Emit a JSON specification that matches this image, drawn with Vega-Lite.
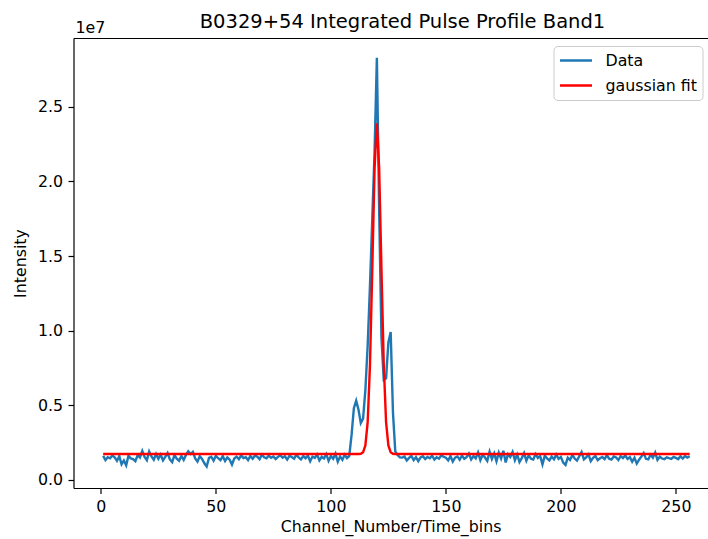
{
  "$schema": "https://vega.github.io/schema/vega-lite/v6.json",
  "autosize": {"type": "none"},
  "padding": {"left": 73.5, "top": 38, "right": 0, "bottom": 51},
  "width": 634,
  "height": 450,
  "background": "white",
  "title": {"text": "B0329+54 Integrated Pulse Profile Band1", "anchor": "middle", "frame": "group", "font": "DejaVu Sans", "fontSize": 19.5, "fontWeight": "normal", "color": "#000", "baseline": "alphabetic", "offset": 12, "dy": 39, "dx": 12},
  "config": {
    "view": {"stroke": null},
    "axis": {"grid": false, "domainColor": "#000", "domainWidth": 1.2, "tickColor": "#000", "tickWidth": 1.2, "tickSize": 5.5, "labelPadding": 5.5, "labelFont": "DejaVu Sans", "labelFontSize": 15.8, "labelColor": "#000", "titleFont": "DejaVu Sans", "titleFontSize": 15.8, "titleFontWeight": "normal", "titleColor": "#000"},
    "legend": {"symbolType": "stroke", "symbolSize": 1024, "symbolStrokeWidth": 2.4, "labelFont": "DejaVu Sans", "labelFontSize": 15.8, "labelColor": "#000", "padding": 5, "strokeColor": "#cccccc", "fillColor": "rgba(255,255,255,0.8)", "cornerRadius": 4, "labelOffset": 12, "rowPadding": 6, "clipHeight": 19}
  },
  "resolve": {"axis": {"x": "independent"}},
  "layer": [
    {
      "data": {"values": [
{"x":1,"Data":1600000,"gaussian fit":1720000},{"x":2,"Data":1320000,"gaussian fit":1720000},{"x":3,"Data":1510000,"gaussian fit":1720000},{"x":4,"Data":1440000,"gaussian fit":1720000},{"x":5,"Data":1620000,"gaussian fit":1720000},{"x":6,"Data":1500000,"gaussian fit":1720000},{"x":7,"Data":1260000,"gaussian fit":1720000},{"x":8,"Data":1580000,"gaussian fit":1720000},{"x":9,"Data":1030000,"gaussian fit":1720000},{"x":10,"Data":1290000,"gaussian fit":1720000},
{"x":11,"Data":960000,"gaussian fit":1720000},{"x":12,"Data":1610000,"gaussian fit":1720000},{"x":13,"Data":1420000,"gaussian fit":1720000},{"x":14,"Data":1380000,"gaussian fit":1720000},{"x":15,"Data":1240000,"gaussian fit":1720000},{"x":16,"Data":1650000,"gaussian fit":1720000},{"x":17,"Data":1490000,"gaussian fit":1720000},{"x":18,"Data":1930000,"gaussian fit":1720000},{"x":19,"Data":1520000,"gaussian fit":1720000},{"x":20,"Data":1310000,"gaussian fit":1720000},
{"x":21,"Data":1890000,"gaussian fit":1720000},{"x":22,"Data":1560000,"gaussian fit":1720000},{"x":23,"Data":1340000,"gaussian fit":1720000},{"x":24,"Data":1720000,"gaussian fit":1720000},{"x":25,"Data":1400000,"gaussian fit":1720000},{"x":26,"Data":1680000,"gaussian fit":1720000},{"x":27,"Data":1290000,"gaussian fit":1720000},{"x":28,"Data":1530000,"gaussian fit":1720000},{"x":29,"Data":1790000,"gaussian fit":1720000},{"x":30,"Data":1360000,"gaussian fit":1720000},
{"x":31,"Data":1180000,"gaussian fit":1720000},{"x":32,"Data":1640000,"gaussian fit":1720000},{"x":33,"Data":1410000,"gaussian fit":1720000},{"x":34,"Data":1270000,"gaussian fit":1720000},{"x":35,"Data":1590000,"gaussian fit":1720000},{"x":36,"Data":1330000,"gaussian fit":1720000},{"x":37,"Data":1660000,"gaussian fit":1720000},{"x":38,"Data":1900000,"gaussian fit":1720000},{"x":39,"Data":1720000,"gaussian fit":1720000},{"x":40,"Data":1860000,"gaussian fit":1720000},
{"x":41,"Data":1430000,"gaussian fit":1720000},{"x":42,"Data":1220000,"gaussian fit":1720000},{"x":43,"Data":1570000,"gaussian fit":1720000},{"x":44,"Data":1390000,"gaussian fit":1720000},{"x":45,"Data":1100000,"gaussian fit":1720000},{"x":46,"Data":880000,"gaussian fit":1720000},{"x":47,"Data":1460000,"gaussian fit":1720000},{"x":48,"Data":1540000,"gaussian fit":1720000},{"x":49,"Data":1280000,"gaussian fit":1720000},{"x":50,"Data":1600000,"gaussian fit":1720000},
{"x":51,"Data":1440000,"gaussian fit":1720000},{"x":52,"Data":1310000,"gaussian fit":1720000},{"x":53,"Data":1580000,"gaussian fit":1720000},{"x":54,"Data":1250000,"gaussian fit":1720000},{"x":55,"Data":1490000,"gaussian fit":1720000},{"x":56,"Data":1340000,"gaussian fit":1720000},{"x":57,"Data":1010000,"gaussian fit":1720000},{"x":58,"Data":1420000,"gaussian fit":1720000},{"x":59,"Data":1550000,"gaussian fit":1720000},{"x":60,"Data":1370000,"gaussian fit":1720000},
{"x":61,"Data":1630000,"gaussian fit":1720000},{"x":62,"Data":1450000,"gaussian fit":1720000},{"x":63,"Data":1510000,"gaussian fit":1720000},{"x":64,"Data":1320000,"gaussian fit":1720000},{"x":65,"Data":1590000,"gaussian fit":1720000},{"x":66,"Data":1400000,"gaussian fit":1720000},{"x":67,"Data":1620000,"gaussian fit":1720000},{"x":68,"Data":1540000,"gaussian fit":1720000},{"x":69,"Data":1380000,"gaussian fit":1720000},{"x":70,"Data":1670000,"gaussian fit":1720000},
{"x":71,"Data":1500000,"gaussian fit":1720000},{"x":72,"Data":1430000,"gaussian fit":1720000},{"x":73,"Data":1610000,"gaussian fit":1720000},{"x":74,"Data":1470000,"gaussian fit":1720000},{"x":75,"Data":1560000,"gaussian fit":1720000},{"x":76,"Data":1390000,"gaussian fit":1720000},{"x":77,"Data":1530000,"gaussian fit":1720000},{"x":78,"Data":1640000,"gaussian fit":1720000},{"x":79,"Data":1480000,"gaussian fit":1720000},{"x":80,"Data":1570000,"gaussian fit":1720000},
{"x":81,"Data":1350000,"gaussian fit":1720000},{"x":82,"Data":1600000,"gaussian fit":1720000},{"x":83,"Data":1520000,"gaussian fit":1720000},{"x":84,"Data":1410000,"gaussian fit":1720000},{"x":85,"Data":1660000,"gaussian fit":1720000},{"x":86,"Data":1500000,"gaussian fit":1720000},{"x":87,"Data":1360000,"gaussian fit":1720000},{"x":88,"Data":1580000,"gaussian fit":1720000},{"x":89,"Data":1440000,"gaussian fit":1720000},{"x":90,"Data":1620000,"gaussian fit":1720000},
{"x":91,"Data":1230000,"gaussian fit":1720000},{"x":92,"Data":1550000,"gaussian fit":1720000},{"x":93,"Data":1460000,"gaussian fit":1720000},{"x":94,"Data":1690000,"gaussian fit":1720000},{"x":95,"Data":1300000,"gaussian fit":1720000},{"x":96,"Data":1540000,"gaussian fit":1720000},{"x":97,"Data":1420000,"gaussian fit":1720000},{"x":98,"Data":1710000,"gaussian fit":1720000},{"x":99,"Data":1260000,"gaussian fit":1720000},{"x":100,"Data":1590000,"gaussian fit":1720000},
{"x":101,"Data":1400000,"gaussian fit":1720000},{"x":102,"Data":1740000,"gaussian fit":1720000},{"x":103,"Data":1210000,"gaussian fit":1720000},{"x":104,"Data":1560000,"gaussian fit":1720000},{"x":105,"Data":1330000,"gaussian fit":1720000},{"x":106,"Data":1680000,"gaussian fit":1720000},{"x":107,"Data":1450000,"gaussian fit":1720000},{"x":108,"Data":1600000,"gaussian fit":1720000},{"x":109,"Data":3000000,"gaussian fit":1720000},{"x":110,"Data":4800000,"gaussian fit":1720000},
{"x":111,"Data":5300000,"gaussian fit":1720000},{"x":112,"Data":4700000,"gaussian fit":1722000},{"x":113,"Data":3800000,"gaussian fit":1737000},{"x":114,"Data":4100000,"gaussian fit":1835000},{"x":115,"Data":6000000,"gaussian fit":2295000},{"x":116,"Data":9000000,"gaussian fit":3863000},{"x":117,"Data":13000000,"gaussian fit":7675000},{"x":118,"Data":17500000,"gaussian fit":14086000},{"x":119,"Data":22000000,"gaussian fit":20884000},{"x":120,"Data":28300000,"gaussian fit":23900000},
{"x":121,"Data":18000000,"gaussian fit":20884000},{"x":122,"Data":9500000,"gaussian fit":14086000},{"x":123,"Data":6700000,"gaussian fit":7675000},{"x":124,"Data":6800000,"gaussian fit":3863000},{"x":125,"Data":9200000,"gaussian fit":2295000},{"x":126,"Data":9900000,"gaussian fit":1835000},{"x":127,"Data":4500000,"gaussian fit":1737000},{"x":128,"Data":1900000,"gaussian fit":1722000},{"x":129,"Data":1650000,"gaussian fit":1720000},{"x":130,"Data":1500000,"gaussian fit":1720000},
{"x":131,"Data":1480000,"gaussian fit":1720000},{"x":132,"Data":1550000,"gaussian fit":1720000},{"x":133,"Data":1290000,"gaussian fit":1720000},{"x":134,"Data":1460000,"gaussian fit":1720000},{"x":135,"Data":1600000,"gaussian fit":1720000},{"x":136,"Data":1320000,"gaussian fit":1720000},{"x":137,"Data":1510000,"gaussian fit":1720000},{"x":138,"Data":1240000,"gaussian fit":1720000},{"x":139,"Data":1490000,"gaussian fit":1720000},{"x":140,"Data":1570000,"gaussian fit":1720000},
{"x":141,"Data":1380000,"gaussian fit":1720000},{"x":142,"Data":1520000,"gaussian fit":1720000},{"x":143,"Data":1440000,"gaussian fit":1720000},{"x":144,"Data":1610000,"gaussian fit":1720000},{"x":145,"Data":1350000,"gaussian fit":1720000},{"x":146,"Data":1500000,"gaussian fit":1720000},{"x":147,"Data":1410000,"gaussian fit":1720000},{"x":148,"Data":1630000,"gaussian fit":1720000},{"x":149,"Data":1540000,"gaussian fit":1720000},{"x":150,"Data":1470000,"gaussian fit":1720000},
{"x":151,"Data":1300000,"gaussian fit":1720000},{"x":152,"Data":1590000,"gaussian fit":1720000},{"x":153,"Data":1220000,"gaussian fit":1720000},{"x":154,"Data":1480000,"gaussian fit":1720000},{"x":155,"Data":1560000,"gaussian fit":1720000},{"x":156,"Data":1340000,"gaussian fit":1720000},{"x":157,"Data":1620000,"gaussian fit":1720000},{"x":158,"Data":1400000,"gaussian fit":1720000},{"x":159,"Data":1510000,"gaussian fit":1720000},{"x":160,"Data":1750000,"gaussian fit":1720000},
{"x":161,"Data":1360000,"gaussian fit":1720000},{"x":162,"Data":1580000,"gaussian fit":1720000},{"x":163,"Data":1430000,"gaussian fit":1720000},{"x":164,"Data":1830000,"gaussian fit":1720000},{"x":165,"Data":1310000,"gaussian fit":1720000},{"x":166,"Data":1670000,"gaussian fit":1720000},{"x":167,"Data":1490000,"gaussian fit":1720000},{"x":168,"Data":1260000,"gaussian fit":1720000},{"x":169,"Data":1880000,"gaussian fit":1720000},{"x":170,"Data":1390000,"gaussian fit":1720000},
{"x":171,"Data":1760000,"gaussian fit":1720000},{"x":172,"Data":1230000,"gaussian fit":1720000},{"x":173,"Data":1810000,"gaussian fit":1720000},{"x":174,"Data":1420000,"gaussian fit":1720000},{"x":175,"Data":1940000,"gaussian fit":1720000},{"x":176,"Data":1150000,"gaussian fit":1720000},{"x":177,"Data":1700000,"gaussian fit":1720000},{"x":178,"Data":1520000,"gaussian fit":1720000},{"x":179,"Data":1860000,"gaussian fit":1720000},{"x":180,"Data":1300000,"gaussian fit":1720000},
{"x":181,"Data":1690000,"gaussian fit":1720000},{"x":182,"Data":1190000,"gaussian fit":1720000},{"x":183,"Data":1450000,"gaussian fit":1720000},{"x":184,"Data":1780000,"gaussian fit":1720000},{"x":185,"Data":1270000,"gaussian fit":1720000},{"x":186,"Data":1630000,"gaussian fit":1720000},{"x":187,"Data":1410000,"gaussian fit":1720000},{"x":188,"Data":1350000,"gaussian fit":1720000},{"x":189,"Data":1720000,"gaussian fit":1720000},{"x":190,"Data":1460000,"gaussian fit":1720000},
{"x":191,"Data":1580000,"gaussian fit":1720000},{"x":192,"Data":1020000,"gaussian fit":1720000},{"x":193,"Data":1610000,"gaussian fit":1720000},{"x":194,"Data":1430000,"gaussian fit":1720000},{"x":195,"Data":1290000,"gaussian fit":1720000},{"x":196,"Data":1550000,"gaussian fit":1720000},{"x":197,"Data":1370000,"gaussian fit":1720000},{"x":198,"Data":1680000,"gaussian fit":1720000},{"x":199,"Data":1400000,"gaussian fit":1720000},{"x":200,"Data":1530000,"gaussian fit":1720000},
{"x":201,"Data":1140000,"gaussian fit":1720000},{"x":202,"Data":990000,"gaussian fit":1720000},{"x":203,"Data":1480000,"gaussian fit":1720000},{"x":204,"Data":1330000,"gaussian fit":1720000},{"x":205,"Data":1650000,"gaussian fit":1720000},{"x":206,"Data":1420000,"gaussian fit":1720000},{"x":207,"Data":1280000,"gaussian fit":1720000},{"x":208,"Data":1570000,"gaussian fit":1720000},{"x":209,"Data":1850000,"gaussian fit":1720000},{"x":210,"Data":1360000,"gaussian fit":1720000},
{"x":211,"Data":1500000,"gaussian fit":1720000},{"x":212,"Data":1690000,"gaussian fit":1720000},{"x":213,"Data":1250000,"gaussian fit":1720000},{"x":214,"Data":1470000,"gaussian fit":1720000},{"x":215,"Data":1590000,"gaussian fit":1720000},{"x":216,"Data":1310000,"gaussian fit":1720000},{"x":217,"Data":1440000,"gaussian fit":1720000},{"x":218,"Data":1520000,"gaussian fit":1720000},{"x":219,"Data":1380000,"gaussian fit":1720000},{"x":220,"Data":1640000,"gaussian fit":1720000},
{"x":221,"Data":1410000,"gaussian fit":1720000},{"x":222,"Data":1350000,"gaussian fit":1720000},{"x":223,"Data":1560000,"gaussian fit":1720000},{"x":224,"Data":1490000,"gaussian fit":1720000},{"x":225,"Data":1320000,"gaussian fit":1720000},{"x":226,"Data":1580000,"gaussian fit":1720000},{"x":227,"Data":1450000,"gaussian fit":1720000},{"x":228,"Data":1620000,"gaussian fit":1720000},{"x":229,"Data":1390000,"gaussian fit":1720000},{"x":230,"Data":1510000,"gaussian fit":1720000},
{"x":231,"Data":1200000,"gaussian fit":1720000},{"x":232,"Data":1470000,"gaussian fit":1720000},{"x":233,"Data":1080000,"gaussian fit":1720000},{"x":234,"Data":1340000,"gaussian fit":1720000},{"x":235,"Data":1550000,"gaussian fit":1720000},{"x":236,"Data":1790000,"gaussian fit":1720000},{"x":237,"Data":1400000,"gaussian fit":1720000},{"x":238,"Data":1360000,"gaussian fit":1720000},{"x":239,"Data":1670000,"gaussian fit":1720000},{"x":240,"Data":1480000,"gaussian fit":1720000},
{"x":241,"Data":1820000,"gaussian fit":1720000},{"x":242,"Data":1330000,"gaussian fit":1720000},{"x":243,"Data":1540000,"gaussian fit":1720000},{"x":244,"Data":1420000,"gaussian fit":1720000},{"x":245,"Data":1370000,"gaussian fit":1720000},{"x":246,"Data":1500000,"gaussian fit":1720000},{"x":247,"Data":1440000,"gaussian fit":1720000},{"x":248,"Data":1390000,"gaussian fit":1720000},{"x":249,"Data":1530000,"gaussian fit":1720000},{"x":250,"Data":1460000,"gaussian fit":1720000},
{"x":251,"Data":1380000,"gaussian fit":1720000},{"x":252,"Data":1570000,"gaussian fit":1720000},{"x":253,"Data":1420000,"gaussian fit":1720000},{"x":254,"Data":1590000,"gaussian fit":1720000},{"x":255,"Data":1480000,"gaussian fit":1720000},{"x":256,"Data":1580000,"gaussian fit":1720000}
      ]},
      "transform": [{"fold": ["Data", "gaussian fit"], "as": ["series", "value"]}],
      "mark": {"type": "line", "strokeWidth": 2.4, "clip": true},
      "encoding": {
        "x": {"field": "x", "type": "quantitative", "scale": {"domain": [-11.9, 263.75], "nice": false, "zero": false},
              "axis": {"orient": "bottom", "values": [0, 50, 100, 150, 200, 250], "title": "Channel_Number/Time_bins", "titlePadding": 6}},
        "y": {"field": "value", "type": "quantitative", "scale": {"domain": [-557000, 29620000], "nice": false, "zero": false},
              "axis": {"values": [0, 5000000, 10000000, 15000000, 20000000, 25000000], "labelExpr": "format(datum.value/1e7, '.1f')", "title": "Intensity", "titlePadding": 9}},
        "color": {"field": "series", "type": "nominal", "scale": {"domain": ["Data", "gaussian fit"], "range": ["#1f77b4", "#ff0000"]},
                  "legend": {"title": null, "orient": "none", "legendX": 480, "legendY": 8}}
      }
    },
    {
      "data": {"values": [{"label": "1e7"}]},
      "mark": {"type": "text", "align": "left", "baseline": "alphabetic", "dx": 2, "dy": -5, "font": "DejaVu Sans", "fontSize": 15.8, "color": "#000"},
      "encoding": {
        "x": {"datum": -11.9, "type": "quantitative", "axis": {"orient": "top", "labels": false, "ticks": false, "domain": true, "title": null}},
        "y": {"datum": 29620000, "type": "quantitative"},
        "text": {"field": "label"}
      }
    }
  ]
}
